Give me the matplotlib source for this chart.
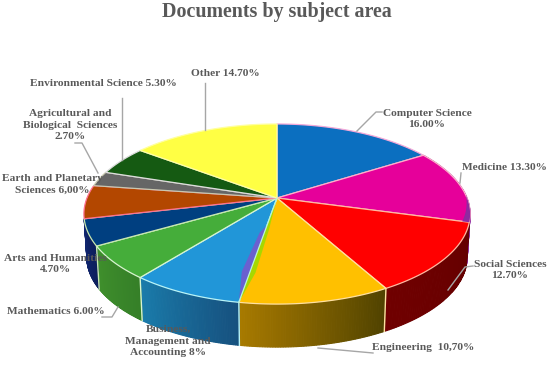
import numpy as np
import matplotlib
matplotlib.use("Agg")
import matplotlib.pyplot as plt
from matplotlib.colors import to_rgb

title = "Documents by subject area"
categories = ["Computer Science", "Medicine", "Social Sciences", "Engineering",
              "Business, Management and Accounting", "Mathematics", "Arts and Humanities",
              "Earth and Planetary Sciences", "Agricultural and Biological Sciences",
              "Environmental Science", "Other"]
values = [16.0, 13.3, 12.7, 10.7, 8.0, 6.0, 4.7, 6.0, 2.7, 5.3, 14.7]
label_texts = ["Computer Science\n16.00%", "Medicine 13.30%", "Social Sciences\n12.70%",
               "Engineering  10,70%", "Business,\nManagement and\nAccounting 8%",
               "Mathematics 6.00%", "Arts and Humanities\n4.70%",
               "Earth and Planetary\nSciences 6,00%",
               "Agricultural and\nBiological  Sciences\n2.70%",
               "Environmental Science 5.30%", "Other 14.70%"]
top_colors = ["#0b6fc0", "#e6009a", "#ff0000", "#ffc000", "#2196d8", "#45ad3a",
              "#003f80", "#b34700", "#666666", "#155a12", "#ffff44"]
side_left = ["#0b6fc0", "#8e2aa0", "#700000", "#a87a00", "#1a7cab", "#3f8f2c",
             "#10256e", "#b34700", "#666666", "#155a12", "#ffff44"]
side_right = ["#0b6fc0", "#8e2aa0", "#640000", "#4f4200", "#16507e", "#357f28",
              "#0c1d5a", "#b34700", "#666666", "#155a12", "#ffff44"]
edge_colors = ["#f4a8d8", "#ffb0c8", "#ffb8a0", "#ffe0a0", "#b8f4f8", "#d8f4d0",
               "#c8e8b0", "#ff7090", "#c8c8b0", "#dddddd", "#ffffa0"]

CX, CY, A, B, K, DEPTH, SHRINK = 277, 198, 190, 87.2, 0.178, 43, 0.985

fig = plt.figure(figsize=(5.5, 3.67), dpi=100)
ax = fig.add_axes([0, 0, 1, 1])
ax.set_xlim(0, 550)
ax.set_ylim(367, 0)
ax.axis("off")


def rim(theta, r=1.0):
    X, Y = r * np.sin(theta), r * np.cos(theta)
    d = 1 + K * Y
    return CX + A * X / d, CY - B * Y / d


def lower(x, y):
    return CX + (x - CX) * SHRINK, y + DEPTH


fractions = np.array(values) / sum(values)
edges = np.concatenate([[0], np.cumsum(fractions)]) * 2 * np.pi

# sides: only the wedges that face the viewer show a wall
for i in range(1, 7):
    t = np.linspace(edges[i], edges[i + 1], 60)
    x, y = rim(t)
    xl, yl = lower(x, y)
    c1, c2 = np.array(to_rgb(side_right[i])), np.array(to_rgb(side_left[i]))
    for j in range(len(t) - 1):
        f = (j + .5) / (len(t) - 1)
        col = c1 * (1 - f) + c2 * f
        ax.fill([x[j], x[j + 1], xl[j + 1], xl[j]], [y[j], y[j + 1], yl[j + 1], yl[j]],
                facecolor=col, edgecolor=col, lw=0.8, zorder=2)
for i in range(3, 7):
    x0, y0 = rim(edges[i])
    xl0, yl0 = lower(x0, y0)
    ax.plot([x0, xl0], [y0, yl0], color=edge_colors[i], lw=1.0, zorder=3)

# top faces
for i in range(len(values)):
    t = np.linspace(edges[i], edges[i + 1], 60)
    x, y = rim(t)
    ax.fill(np.r_[CX, x], np.r_[CY, y], facecolor=top_colors[i],
            edgecolor=edge_colors[i], lw=0.9, zorder=4, joinstyle="round")

# purple sliver of wall on the Medicine rim
t = np.linspace(edges[2] - 0.3, edges[2], 20)
xo, yo = rim(t)
xi, yi = rim(t, np.linspace(1, 0.965, 20))
ax.fill(np.r_[xo, xi[::-1]], np.r_[yo, yi[::-1]], color="#8e2aa0", lw=0, zorder=5)

# slivers beside the Engineering / Business boundary
b = edges[4]
xa, ya = rim(b)
xb1, yb1 = rim(b - 0.05, 0.35)
xb2, yb2 = rim(b - 0.035, 0.75)
ax.fill([CX, xb1, xb2, xa], [CY, yb1, yb2, ya], color="#a6d800", lw=0, zorder=5)
x1, y1 = rim(b, 0.3)
xc1, yc1 = rim(b + 0.06, 0.38)
xc2, yc2 = rim(b + 0.05, 0.75)
ax.fill([x1, xc1, xc2, xa], [y1, yc1, yc2, ya], color="#6a60d0", lw=0, zorder=5)
ax.plot([CX, xa], [CY, ya], color="#b8f4d8", lw=0.9, zorder=5.5)

# labels
label_pos = [(427, 119), (504, 168), (510, 270), (423, 348), (168, 341),
             (56, 312), (55, 264), (52, 184), (70, 125), (103, 84), (225, 74)]
leaders = [[(382, 112), (376, 112), (357, 131)], [(461, 173), (460, 183)],
           [(473, 266), (465, 267), (448, 290)], [(373, 353), (318, 348)],
           [], [(102, 317), (112, 317), (118, 307)], [], [],
           [(75, 143), (82, 143), (98, 173)], [(122, 98), (122, 160)], [(205, 83), (205, 130)]]
for txt, (px, py), line in zip(label_texts, label_pos, leaders):
    if line:
        lx, ly = zip(*line)
        ax.plot(lx, ly, color="#a6a6a6", lw=1.0, zorder=6)
    ax.text(px, py, txt, ha="center", va="center", fontsize=8.2, color="#595959",
            family="Liberation Serif", fontweight="bold", linespacing=1.4, zorder=7)

ax.text(277, 12, title, ha="center", va="center", fontsize=14.4, color="#595959",
        family="Liberation Serif", fontweight="bold")

fig.savefig("out.png", dpi=100)
